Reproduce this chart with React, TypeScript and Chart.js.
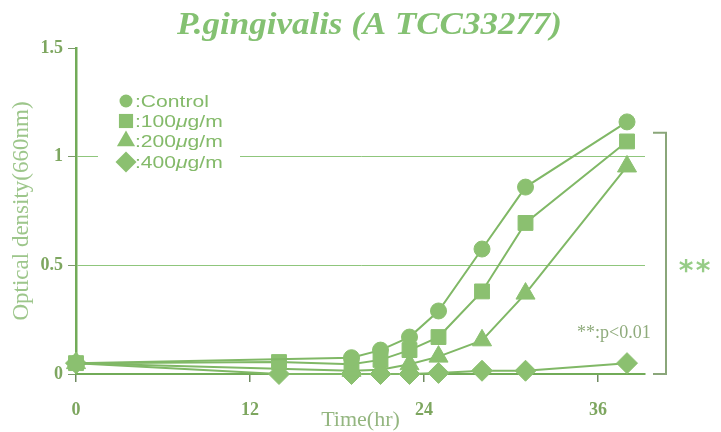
import React, { useEffect, useRef } from 'react';
import { Chart, registerables } from 'chart.js';

Chart.register(...registerables);

// ---------- data ----------
const times = [0, 14, 19, 21, 23, 25, 28, 31, 38];
const control = [0.05, null, 0.075, 0.11, 0.17, 0.29, 0.575, 0.86, 1.16];
const dose100 = [0.05, 0.055, 0.045, 0.065, 0.11, 0.17, 0.38, 0.695, 1.07];
const dose200 = [0.05, null, 0.015, 0.02, 0.045, 0.08, 0.155, 0.37, 0.955];
const dose400 = [0.05, 0, 0, 0, 0, 0.005, 0.015, 0.015, 0.05];
const seriesNames = ['Control', '100', '200', '400'];
const xTicks = [0, 12, 24, 36];
const yTicks = [0, 0.5, 1, 1.5];
const titleText = 'P.gingivalis (A TCC33277)';
const yTitle = 'Optical density(660nm)';
const xTitle = 'Time(hr)';
const bracketTop = 1.11;
const sigNote = '**:p<0.01';

// ---------- styles ----------
const LINE = '#80b866';
const FILL = '#8bc070';
const AXIS = '#72ab58';
const GRID = '#8fc67c';
const TICKTXT = '#7da65f';
const TITLE = '#84c172';

const styles = [
  { pointStyle: 'circle', r: 8, legendR: 6.5 },
  { pointStyle: 'rect', r: 10.5, legendR: 10 },
  { pointStyle: 'triangle', r: 11, legendR: 10.5 },
  { pointStyle: 'rectRot', r: 10.5, legendR: 10.5 },
];

const toPoints = (arr: (number | null)[]) => times.map((t, i) => ({ x: t, y: arr[i] }));

function drawMarker(ctx: CanvasRenderingContext2D, style: string, x: number, y: number, r: number) {
  ctx.beginPath();
  if (style === 'circle') {
    ctx.arc(x, y, r, 0, Math.PI * 2);
  } else if (style === 'rect') {
    const s = r * Math.SQRT1_2;
    ctx.rect(x - s, y - s, 2 * s, 2 * s);
  } else if (style === 'triangle') {
    ctx.moveTo(x, y - r);
    ctx.lineTo(x + r * Math.sin(Math.PI * 2 / 3), y + r * 0.5);
    ctx.lineTo(x - r * Math.sin(Math.PI * 2 / 3), y + r * 0.5);
    ctx.closePath();
  } else {
    ctx.moveTo(x, y - r);
    ctx.lineTo(x + r, y);
    ctx.lineTo(x, y + r);
    ctx.lineTo(x - r, y);
    ctx.closePath();
  }
  ctx.fill();
}

const overlay = {
  id: 'overlay',
  afterDraw(chart: any) {
    const { ctx, chartArea, scales } = chart;
    const ys = scales.y;
    // Title
    ctx.save();
    ctx.font = 'italic bold 31px "Liberation Serif"';
    const tw = ctx.measureText(titleText).width;
    ctx.fillStyle = TITLE;
    ctx.textBaseline = 'alphabetic';
    ctx.translate(177, 34);
    ctx.scale(385 / tw, 1);
    ctx.fillText(titleText, 0, 0);
    ctx.restore();

    // Legend (white box covers gridline)
    ctx.save();
    const lx = chartArea.left + 22;
    ctx.fillStyle = '#ffffff';
    ctx.fillRect(lx, chartArea.top + 40, 142, 86);
    const rowsY = [101, 121, 141, 162];
    ctx.textBaseline = 'middle';
    rowsY.forEach((ry, i) => {
      ctx.fillStyle = FILL;
      drawMarker(ctx, styles[i].pointStyle, chartArea.left + 50, ry, styles[i].legendR);
      const segs: { t: string; it: boolean }[] =
        i === 0
          ? [{ t: ':' + seriesNames[0], it: false }]
          : [
              { t: ':' + seriesNames[i], it: false },
              { t: 'μ', it: true },
              { t: 'g/m', it: false },
            ];
      ctx.save();
      ctx.translate(chartArea.left + 59, ry + 1);
      ctx.scale(1.24, 1);
      let x = 0;
      ctx.fillStyle = '#84ba6a';
      segs.forEach((s) => {
        ctx.font = (s.it ? 'italic ' : '') + '17px "Liberation Sans"';
        ctx.fillText(s.t, x, 0);
        x += ctx.measureText(s.t).width;
      });
      ctx.restore();
    });
    ctx.restore();

    // Significance bracket
    ctx.save();
    const bx = chartArea.right + 21;
    const yTop = ys.getPixelForValue(bracketTop);
    const yBot = ys.getPixelForValue(0);
    ctx.strokeStyle = '#8aa67a';
    ctx.lineWidth = 2;
    ctx.beginPath();
    ctx.moveTo(chartArea.right + 8, yTop);
    ctx.lineTo(bx, yTop);
    ctx.lineTo(bx, yBot);
    ctx.lineTo(chartArea.right + 8, yBot);
    ctx.stroke();
    ctx.fillStyle = '#96cc86';
    ctx.font = 'bold 28px "DejaVu Sans"';
    ctx.textAlign = 'center';
    ctx.textBaseline = 'alphabetic';
    ctx.fillText('*', bx + 20, 280);
    ctx.fillText('*', bx + 37, 280);
    ctx.fillStyle = '#8fab7c';
    ctx.font = '18px "Liberation Serif"';
    ctx.textAlign = 'left';
    ctx.fillText(sigNote, 577, 338);
    ctx.restore();
  },
};

export default function App() {
  const ref = useRef<HTMLCanvasElement | null>(null);
  useEffect(() => {
    document.body.style.margin = '0';
    if (!ref.current) return;
    const series = [control, dose100, dose200, dose400];
    const chart = new Chart(ref.current, {
      type: 'line',
      data: {
        datasets: series.map((arr, i) => ({
          label: seriesNames[i],
          data: toPoints(arr),
          borderColor: LINE,
          backgroundColor: FILL,
          borderWidth: 2,
          pointStyle: styles[i].pointStyle as any,
          pointRadius: styles[i].r,
          pointBackgroundColor: FILL,
          pointBorderColor: FILL,
          pointBorderWidth: 1,
          spanGaps: true,
          clip: false as any,
          tension: 0,
        })),
      },
      options: {
        animation: false,
        responsive: false,
        layout: { padding: { top: 48, right: 76, bottom: 0, left: 0 } },
        plugins: { legend: { display: false }, tooltip: { enabled: false }, title: { display: false } },
        scales: {
          x: {
            type: 'linear',
            min: 0,
            max: 39.24,
            afterBuildTicks: (s: any) => {
              s.ticks = xTicks.map((v) => ({ value: v }));
            },
            afterFit: (s: any) => {
              s.height = 58;
            },
            border: { display: true, color: AXIS, width: 2 },
            grid: { drawOnChartArea: false, drawTicks: true, tickLength: 8, color: '#6f8a60', lineWidth: 1.5 },
            ticks: {
              padding: 18,
              autoSkip: false,
              maxRotation: 0,
              color: TICKTXT,
              font: { family: '"Liberation Serif"', weight: 'bold', size: 18 },
              callback: (v: any) => String(v),
            },
            title: {
              display: true,
              text: xTitle,
              color: '#94b680',
              font: { family: '"Liberation Serif"', size: 22, lineHeight: 1.1 },
              padding: { top: 0, bottom: 0 },
            },
          },
          y: {
            min: 0,
            max: 1.5,
            afterBuildTicks: (s: any) => {
              s.ticks = yTicks.map((v) => ({ value: v }));
            },
            afterFit: (s: any) => {
              s.width = 76;
            },
            border: { display: true, color: AXIS, width: 2.5 },
            grid: {
              drawTicks: true,
              tickLength: 8,
              lineWidth: 1,
              color: (c: any) => (c.tick && (c.tick.value === 0.5 || c.tick.value === 1) ? GRID : 'rgba(0,0,0,0)'),
              tickColor: '#7d9a6c',
            },
            ticks: {
              padding: 5,
              color: TICKTXT,
              font: { family: '"Liberation Serif"', weight: 'bold', size: 18 },
              callback: (v: any) => String(v),
            },
            title: {
              display: true,
              text: yTitle,
              color: '#9dc68b',
              font: { family: '"Liberation Serif"', size: 23, lineHeight: 1.2 },
              padding: { top: 8, bottom: 0 },
            },
          },
        },
      },
      plugins: [overlay],
    } as any);
    return () => chart.destroy();
  }, []);
  return (
    <div style={{ position: 'absolute', left: 0, top: 0, width: 721, height: 432 }}>
      <canvas ref={ref} width={721} height={432} />
    </div>
  );
}
